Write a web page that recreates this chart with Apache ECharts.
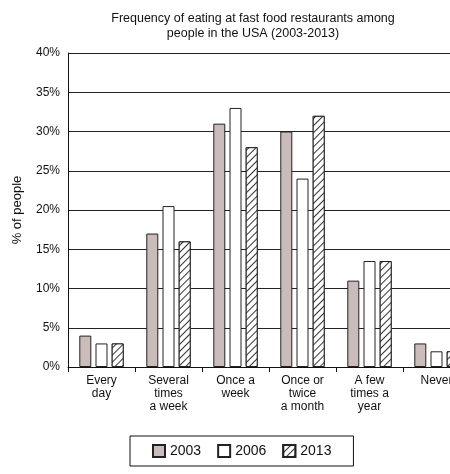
<!DOCTYPE html>
<html><head><meta charset="utf-8">
<script src="https://cdn.jsdelivr.net/npm/echarts@6/dist/echarts.min.js"></script>
<style>html,body{margin:0;padding:0;background:#fff}#c{width:450px;height:474px}</style>
</head><body><div id="c"></div>
<script>
var categories = ['Every\nday', 'Several\ntimes\na week', 'Once a\nweek', 'Once or\ntwice\na month', 'A few\ntimes a\nyear', 'Never'];
var s2003 = [4, 17, 31, 30, 11, 3];
var s2006 = [3, 20.5, 33, 24, 13.5, 2];
var s2013 = [3, 16, 28, 32, 13.5, 2];
var yTicks = [0, 5, 10, 15, 20, 25, 30, 35, 40];

var chart = echarts.init(document.getElementById('c'));
var font = 'Liberation Sans, Arial, sans-serif';
chart.setOption({
  animation: false,
  title: {
    text: 'Frequency of eating at fast food restaurants among\npeople in the USA (2003-2013)',
    left: 248, top: 6, textAlign: 'center',
    textStyle: {fontFamily: font, fontSize: 12.5, fontWeight: 'normal', color: '#111', lineHeight: 15}
  },
  legend: {
    bottom: 8, left: 130,
    data: ['2003', '2006', '2013'],
    icon: 'rect',
    borderColor: '#111', borderWidth: 1, padding: [8, 22],
    itemWidth: 12, itemHeight: 12, itemGap: 16,
    textStyle: {fontFamily: font, fontSize: 14, color: '#111'}
  },
  grid: {left: 68, width: 402, top: 53, bottom: 107, outerBoundsMode: 'none', containLabel: false},
  xAxis: {
    type: 'category', data: categories,
    axisLine: {lineStyle: {color: '#111'}},
    axisTick: {show: true, alignWithLabel: false, lineStyle: {color: '#111'}},
    axisLabel: {fontFamily: font, fontSize: 12, color: '#111', lineHeight: 13, interval: 0, margin: 7, hideOverlap: false}
  },
  yAxis: {
    type: 'value', min: 0, max: 40, interval: 5,
    name: '% of people', nameLocation: 'middle', nameGap: 44,
    nameTextStyle: {fontFamily: font, fontSize: 13, color: '#111'},
    axisLine: {show: true, lineStyle: {color: '#111'}},
    axisTick: {show: false},
    axisLabel: {fontFamily: font, fontSize: 12, color: '#111', formatter: '{value}%'},
    splitLine: {lineStyle: {color: '#222', width: 1}}
  },
  series: [
    {name: '2003', type: 'bar', data: s2003, barWidth: 12, barGap: '35%',
     itemStyle: {color: '#cbbcbc', borderColor: '#222', borderWidth: 1}},
    {name: '2006', type: 'bar', data: s2006, barWidth: 12,
     itemStyle: {color: '#ffffff', borderColor: '#222', borderWidth: 1}},
    {name: '2013', type: 'bar', data: s2013, barWidth: 12,
     itemStyle: {color: '#ffffff', borderColor: '#222', borderWidth: 1,
       decal: {symbol: 'rect', symbolSize: 1, dashArrayX: [1, 0], dashArrayY: [1, 4], rotation: -Math.PI / 4, color: '#333', backgroundColor: '#ffffff'}}}
  ]
});
</script></body></html>
